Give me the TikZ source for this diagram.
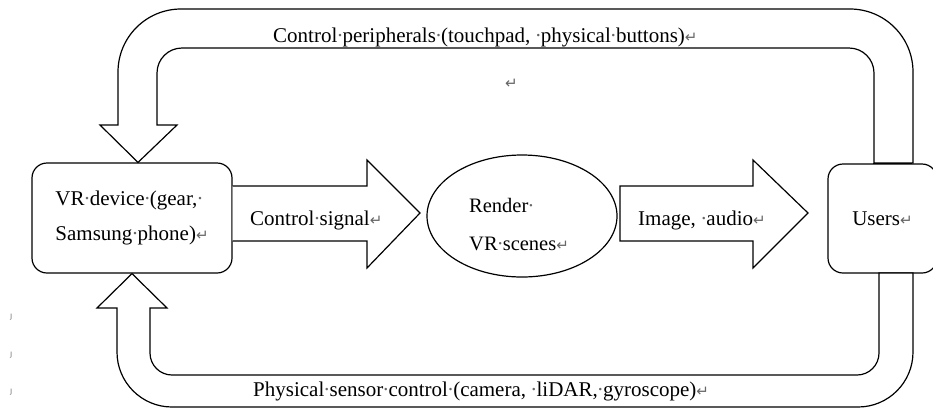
\documentclass[tikz,border=0pt]{standalone}
\usepackage{fontspec}
\setmainfont{Liberation Serif}
\newfontfamily\markfont{DejaVu Sans}
\usetikzlibrary{shapes.geometric,calc}
\newcommand{\wdot}{\makebox[0.25em]{\textcolor{black!60}{·}}}
\newcommand{\pmark}{{\markfont\fontsize{15bp}{15bp}\selectfont\textcolor{black!60}{↵}}}
\tikzset{
  base/.style={font=\fontsize{21bp}{35bp}\selectfont},
  fat/.style={draw=black, line width=1.2bp, fill=white, line join=miter},
  boxnode/.style={base, draw=black, line width=1.2bp, rounded corners=15bp, align=left, inner sep=0pt},
  lbl/.style={base, anchor=base west, inner sep=0pt},
  elbl/.style={anchor=base west, inner sep=0pt, font=\fontsize{20.5bp}{20.5bp}\selectfont},
  tiny/.style={anchor=base west, inner sep=0pt, font=\markfont\fontsize{8bp}{8bp}\selectfont, text=black!55}
}
\begin{document}
\begin{tikzpicture}[x=1bp,y=-1bp]
\fill[white] (0,0) rectangle (933,408);
\useasboundingbox (0,0) rectangle (933,408);

% nodes
\node[boxnode, minimum width=200bp, minimum height=110bp] (vr) at (132,218) {VR\wdot device\wdot (gear,\wdot\\Samsung\wdot phone)\pmark};
\node[boxnode, minimum width=109bp, minimum height=109bp] (users) at (882.5,218.5) {Users\pmark};
\node[draw=black, line width=1.2bp, ellipse, minimum width=190bp, minimum height=122bp, inner sep=0pt] (render) at (522,216) {};
\node[elbl] (render1) at (469,212) {Render\wdot};
\node[elbl] (render2) at (469,250) {VR\wdot scenes\pmark};

% top feedback arrow: users -> vr
\coordinate (ttip) at ($(vr.north)+(6,0)$);
\draw[fat] (ttip) -- (177,125) -- (157,125) -- (157,73)
  arc[start angle=180,end angle=270,radius=25] -- (849,48)
  arc[start angle=270,end angle=360,radius=25] -- (874,163) -- (913,163) -- (913,72)
  arc[start angle=0,end angle=-90,radius=63] -- (181,9)
  arc[start angle=270,end angle=180,radius=63] -- (118,125) -- (100,125) -- cycle;

% bottom feedback arrow: users -> vr
\coordinate (btip) at (vr.south);
\draw[fat] (btip) -- (167,308) -- (150,308) -- (150,353)
  arc[start angle=180,end angle=90,radius=22] -- (857,375)
  arc[start angle=90,end angle=0,radius=22] -- (879,273) -- (913,273) -- (913,352)
  arc[start angle=0,end angle=90,radius=55] -- (172,407)
  arc[start angle=90,end angle=180,radius=55] -- (117,308) -- (97,308) -- cycle;
\draw[line width=1.2bp] (users.north west) ++(46,0) -- ++(39,0);

% control signal arrow: vr -> render
\draw[fat] ($(vr.east)+(0,-32)$) -- (367,186) -- (367,160) -- (420,213) -- (367,268) -- (367,241) -- ($(vr.east)+(0,23)$);

% image/audio arrow: render -> users
\draw[fat] (620,186) -- (753,186) -- (753,160) -- (808,213) -- (753,268) -- (753,241) -- (620,241) -- cycle;

% labels
\node[lbl] (ltop) at (273,42) {Control\wdot peripherals\wdot (touchpad,\ \wdot physical\wdot buttons)\pmark};
\node[lbl] (lstray) at (505,88) {\pmark};
\node[lbl] (lsig) at (250,225) {Control\wdot signal\pmark};
\node[lbl] (limg) at (638,225) {Image,\ \wdot audio\pmark};
\node[lbl] (lbot) at (253,396) {Physical\wdot sensor\wdot control\wdot (camera,\ \wdot liDAR,\wdot gyroscope)\pmark};

% stray margin marks
\node[tiny] (m1) at (10,318) {ȷ};
\node[tiny] (m2) at (10,356) {ȷ};
\node[tiny] (m3) at (10,393) {ȷ};
\end{tikzpicture}
\end{document}
